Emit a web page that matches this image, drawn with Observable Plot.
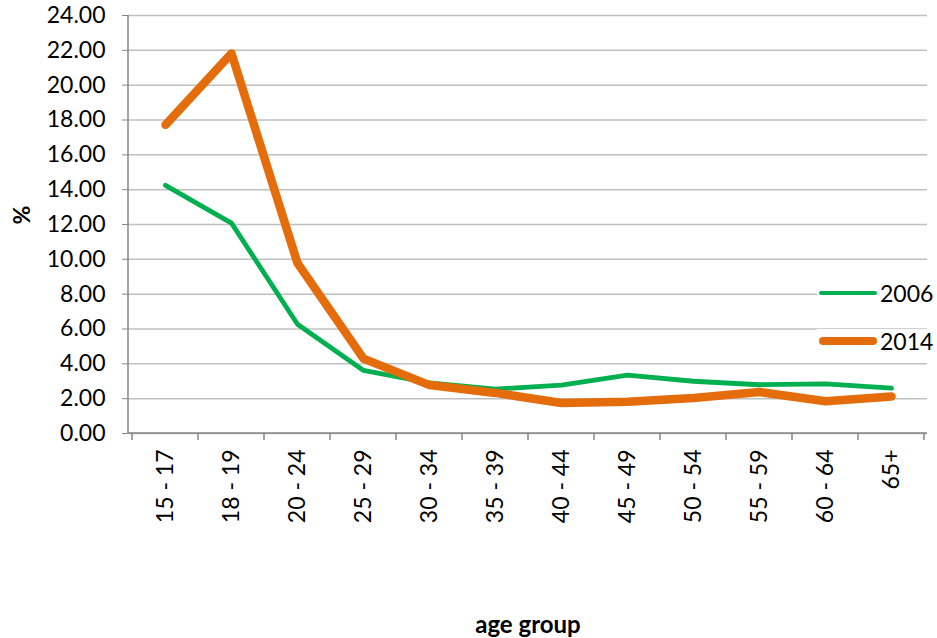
<!DOCTYPE html>
<html><head><meta charset="utf-8">
<script src="https://cdn.jsdelivr.net/npm/d3@7"></script>
<script src="https://cdn.jsdelivr.net/npm/@observablehq/plot@0.6"></script>
<style>
body{margin:0;background:#fff;}
#wrap{position:relative;width:937px;height:638px;font-family:Lato,sans-serif;}
.lg{position:absolute;left:817px;width:120px;height:24px;display:flex;align-items:center;background:#fff;font-size:23px;color:#000;}
.sw{display:inline-block;width:58px;margin-left:2px;margin-right:3px;}
</style>
</head><body><div id="wrap"></div>
<script>
const ageGroups = ["15 - 17","18 - 19","20 - 24","25 - 29","30 - 34","35 - 39","40 - 44","45 - 49","50 - 54","55 - 59","60 - 64","65+"];
const rate2006 = [14.25, 12.08, 6.27, 3.62, 2.9, 2.55, 2.78, 3.35, 3.0, 2.8, 2.85, 2.6];
const rate2014 = [17.72, 21.82, 9.78, 4.3, 2.78, 2.33, 1.75, 1.82, 2.04, 2.38, 1.85, 2.13];
const seriesNames = ["2006", "2014"];
const seriesColors = ["#00b050", "#e46c0a"];
const seriesWidths = [4.8, 8.5];
const yTicks = [0, 2, 4, 6, 8, 10, 12, 14, 16, 18, 20, 22, 24];

const rows = [];
ageGroups.forEach((g, i) => {
  rows.push({group: g, year: seriesNames[0], v: rate2006[i]});
  rows.push({group: g, year: seriesNames[1], v: rate2014[i]});
});

const axisColor = "#868686";

function axesAndTicks(index, scales, values, dims) {
  const x = scales.x, y = scales.y;
  const bw = typeof x.bandwidth === "function" ? x.bandwidth() : x.bandwidth;
  const g = d3.create("svg:g");
  const left = dims.marginLeft, right = dims.width - dims.marginRight;
  // band boundaries from the band scale
  const bounds = ageGroups.map(d => x(d)).concat([x(ageGroups[ageGroups.length - 1]) + bw]);
  g.append("line").attr("x1", left).attr("x2", left).attr("y1", y(24)).attr("y2", y(0))
    .attr("stroke", axisColor).attr("stroke-width", 1.5);
  g.append("line").attr("x1", left).attr("x2", right).attr("y1", y(0)).attr("y2", y(0))
    .attr("stroke", axisColor).attr("stroke-width", 1.5);
  g.selectAll(null).data(bounds).join("line")
    .attr("x1", d => d).attr("x2", d => d).attr("y1", y(0)).attr("y2", y(0) + 7)
    .attr("stroke", axisColor).attr("stroke-width", 1.5);
  return g.node();
}

const chart = Plot.plot({
  width: 937,
  height: 638,
  marginLeft: 128,
  marginRight: 10,
  marginTop: 15,
  marginBottom: 205,
  style: {fontFamily: "Lato, sans-serif", fontSize: "23px", color: "#000", background: "#fff"},
  x: {type: "band", domain: ageGroups, padding: 0},
  y: {domain: [0, 24]},
  color: {domain: seriesNames, range: seriesColors},
  marks: [
    Plot.gridY(yTicks, {stroke: "#c0c0c0", strokeOpacity: 1, strokeWidth: 1.5}),
    Plot.axisY(yTicks, {tickFormat: d => d.toFixed(2), tickSize: 6, tickPadding: 17, stroke: axisColor, fill: "#000", label: null}),
    Plot.axisX({tickSize: 0, tickRotate: -90, tickPadding: 16, fill: "#000", label: null}),
    axesAndTicks,
    Plot.line(rows.filter(d => d.year === seriesNames[0]), {x: "group", y: "v", stroke: seriesColors[0], strokeWidth: seriesWidths[0], strokeLinecap: "round", strokeLinejoin: "round"}),
    Plot.line(rows.filter(d => d.year === seriesNames[1]), {x: "group", y: "v", stroke: seriesColors[1], strokeWidth: seriesWidths[1], strokeLinecap: "round", strokeLinejoin: "round"}),
    Plot.text(["%"], {text: d => d, frameAnchor: "left", dx: -106, rotate: -90, fontWeight: "bold", fontSize: 23, fill: "#000"}),
    Plot.text(["age group"], {text: d => d, frameAnchor: "bottom", dy: 192, fontWeight: "bold", fontSize: 24, fill: "#000", lineAnchor: "middle"})
  ]
});

const wrap = document.getElementById("wrap");
wrap.appendChild(chart);

const legendTops = [281, 329];
seriesNames.forEach((name, i) => {
  const item = document.createElement("div");
  item.className = "lg";
  item.style.top = legendTops[i] + "px";
  const sw = document.createElement("span");
  sw.className = "sw";
  sw.style.height = seriesWidths[i] + "px";
  sw.style.background = seriesColors[i];
  sw.style.borderRadius = (seriesWidths[i] / 2) + "px";
  item.appendChild(sw);
  const t = document.createElement("span");
  t.textContent = name;
  item.appendChild(t);
  wrap.appendChild(item);
});
</script>
</body></html>
